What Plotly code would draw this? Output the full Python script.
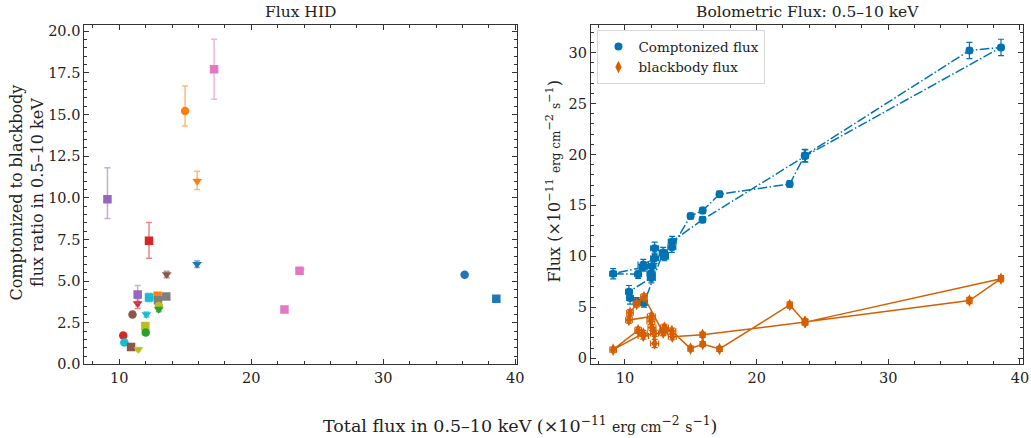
import plotly.graph_objects as go

# ---------------- data (time order) ----------------
total_flux = [11.39, 9.10, 11.00, 11.39, 12.25, 12.25, 12.05, 11.97, 12.00, 10.30,
              10.38, 10.89, 11.44, 12.90, 12.93, 12.99, 12.99, 13.56, 14.98, 15.90,
              17.18, 22.51, 23.65, 36.16, 38.56, 23.70, 15.89, 13.59]
total_err = [0.3, 0.25, 0.25, 0.4, 0.3, 0.3, 0.3, 0.3, 0.3, 0.25,
             0.25, 0.25, 0.25, 0.3, 0.3, 0.3, 0.3, 0.3, 0.2, 0.2,
             0.2, 0.2, 0.2, 0.2, 0.2, 0.2, 0.2, 0.3]
compt_flux = [8.95, 8.30, 8.25, 9.20, 9.81, 10.80, 9.04, 8.34, 7.89, 6.54,
              5.91, 5.55, 5.42, 10.38, 10.27, 10.10, 9.97, 10.89, 13.95, 14.50,
              16.10, 17.10, 19.90, 30.20, 30.50, 19.85, 13.60, 11.47]
compt_err = [0.4, 0.5, 0.4, 0.5, 0.5, 0.6, 0.5, 0.5, 0.5, 0.6,
             0.6, 0.4, 0.4, 0.5, 0.4, 0.4, 0.4, 0.5, 0.3, 0.3,
             0.3, 0.3, 0.6, 0.8, 0.8, 0.6, 0.3, 0.5]
bb_flux = [2.44, 0.85, 2.75, 2.19, 2.44, 1.45, 3.01, 3.63, 4.11, 3.76,
           4.47, 5.34, 6.02, 2.52, 2.66, 2.89, 3.02, 2.67, 0.95, 1.40,
           0.92, 5.23, 3.57, 5.67, 7.81, 3.55, 2.30, 2.12]
bb_err = [0.3, 0.25, 0.3, 0.3, 0.3, 0.4, 0.3, 0.3, 0.3, 0.3,
          0.3, 0.3, 0.3, 0.3, 0.3, 0.3, 0.3, 0.3, 0.25, 0.25,
          0.25, 0.3, 0.3, 0.3, 0.3, 0.3, 0.25, 0.3]
ratio = [3.66, 9.91, 3.00, 4.20, 4.02, 7.42, 3.00, 2.30, 1.92, 1.74,
         1.32, 1.04, 0.90, 4.12, 3.86, 3.50, 3.30, 4.08, 15.21, 11.00,
         17.72, 3.30, 5.62, 5.38, 3.94, 5.62, 6.02, 5.40]
ratio_err_hi = [0.30, 1.90, 0.12, 0.54, 0.25, 1.10, 0.15, 0.15, 0.12, 0.12,
                0.10, 0.08, 0.08, 0.15, 0.15, 0.15, 0.12, 0.15, 1.50, 0.60,
                1.80, 0.08, 0.15, 0.10, 0.10, 0.15, 0.20, 0.20]
ratio_err_lo = [0.30, 1.15, 0.12, 0.54, 0.25, 1.05, 0.15, 0.15, 0.12, 0.12,
                0.10, 0.08, 0.08, 0.15, 0.15, 0.15, 0.12, 0.15, 0.90, 0.50,
                1.80, 0.08, 0.15, 0.10, 0.10, 0.15, 0.20, 0.20]
point_color = ['#d62728', '#9467bd', '#8c564b', '#9467bd', '#17becf', '#d62728', '#17becf', '#bcbd22', '#2ca02c', '#d62728',
               '#17becf', '#8c564b', '#bcbd22', '#ff7f0e', '#7f7f7f', '#bcbd22', '#2ca02c', '#7f7f7f', '#ff7f0e', '#ff7f0e',
               '#e377c2', '#e377c2', '#e377c2', '#1f77b4', '#1f77b4', '#e377c2', '#1f77b4', '#8c564b']
point_symbol = ['triangle-down', 'square', 'circle', 'square', 'square', 'square', 'triangle-down', 'square', 'circle', 'circle',
                'circle', 'square', 'triangle-down', 'square', 'square', 'circle', 'triangle-down', 'square', 'circle', 'triangle-down',
                'square', 'square', 'square', 'circle', 'square', 'triangle-down', 'triangle-down', 'triangle-down']

FONT = "DejaVu Serif"
BLUE = "#0173b2"
ORANGE = "#d55e00"

fig = go.Figure()

def rgba(hexc, a):
    h = hexc.lstrip('#')
    return f"rgba({int(h[0:2],16)},{int(h[2:4],16)},{int(h[4:6],16)},{a})"

# ---------------- left panel: Flux HID ----------------
for i in range(len(total_flux)):
    fig.add_trace(go.Scatter(
        x=[total_flux[i]], y=[ratio[i]], mode="markers",
        marker=dict(color=point_color[i], symbol=point_symbol[i], size=8.5, line=dict(width=0)),
        error_y=dict(type="data", symmetric=False, array=[ratio_err_hi[i]], arrayminus=[ratio_err_lo[i]],
                     color=rgba(point_color[i], 0.55), thickness=1.5, width=3),
        error_x=dict(type="data", array=[total_err[i] * 0.4], color=rgba(point_color[i], 0.55), thickness=1.5, width=3),
        xaxis="x", yaxis="y", showlegend=False))

# ---------------- right panel: Bolometric flux ----------------
fig.add_trace(go.Scatter(
    x=total_flux, y=compt_flux, mode="lines+markers", name="Comptonized flux",
    line=dict(color=BLUE, width=1.5, dash="9.6px,2.4px,1.5px,2.4px"),
    marker=dict(color=BLUE, symbol="circle", size=8),
    error_y=dict(type="data", array=compt_err, color=BLUE, thickness=1.2, width=3),
    error_x=dict(type="data", array=total_err, color=BLUE, thickness=1.2, width=3),
    xaxis="x2", yaxis="y2", showlegend=False))
fig.add_trace(go.Scatter(
    x=total_flux, y=bb_flux, mode="lines+markers", name="blackbody flux",
    line=dict(color=ORANGE, width=1.5),
    marker=dict(color=ORANGE, symbol="diamond-tall", size=9),
    error_y=dict(type="data", array=bb_err, color=ORANGE, thickness=1.2, width=3),
    error_x=dict(type="data", array=total_err, color=ORANGE, thickness=1.2, width=3),
    xaxis="x2", yaxis="y2", showlegend=False))
# legend entries (markers only, as in the reference)
fig.add_trace(go.Scatter(x=[None], y=[None], mode="markers", name="Comptonized flux",
                         marker=dict(color=BLUE, symbol="circle", size=8), xaxis="x2", yaxis="y2"))
fig.add_trace(go.Scatter(x=[None], y=[None], mode="markers", name="blackbody flux",
                         marker=dict(color=ORANGE, symbol="diamond-tall", size=9), xaxis="x2", yaxis="y2"))

axis_common = dict(showline=True, linecolor="#333", linewidth=1, mirror="allticks",
                   ticks="inside", ticklen=5, tickwidth=1, tickcolor="#333",
                   showgrid=False, zeroline=False, automargin=False,
                   tickfont=dict(family=FONT, size=14.5, color="#222"))

fig.update_layout(
    width=1031, height=438,
    margin=dict(l=0, r=0, t=0, b=0),
    paper_bgcolor="white", plot_bgcolor="white",
    font=dict(family=FONT, color="#222"),
    xaxis=dict(domain=[0.0818, 0.5015], range=[7.35, 40.13], tickvals=[10, 20, 30, 40],
               minor=dict(ticks="inside", ticklen=3, dtick=2, tick0=0, tickcolor="#333"),
               anchor="y", **axis_common),
    yaxis=dict(domain=[0.168, 0.943], range=[0, 20.38], tickvals=[0, 2.5, 5, 7.5, 10, 12.5, 15, 17.5, 20],
               ticktext=["0.0", "2.5", "5.0", "7.5", "10.0", "12.5", "15.0", "17.5", "20.0"],
               minor=dict(ticks="inside", ticklen=3, dtick=0.5, tick0=0, tickcolor="#333"),
               anchor="x", **axis_common),
    xaxis2=dict(domain=[0.573, 0.9925], range=[7.4, 40.25], tickvals=[10, 20, 30, 40],
                minor=dict(ticks="inside", ticklen=3, dtick=2, tick0=0, tickcolor="#333"),
                anchor="y2", **axis_common),
    yaxis2=dict(domain=[0.168, 0.943], range=[-0.6, 32.7], tickvals=[0, 5, 10, 15, 20, 25, 30],
                minor=dict(ticks="inside", ticklen=3, dtick=1, tick0=0, tickcolor="#333"),
                anchor="x2", **axis_common),
    legend=dict(x=0.5795, y=0.931, xanchor="left", yanchor="top",
                bgcolor="rgba(255,255,255,0.8)", bordercolor="#d8d8d8", borderwidth=1,
                font=dict(family=FONT, size=13.5, color="#222"), itemwidth=30,
                tracegroupgap=0),
)

ann = [
    dict(text="Flux HID", x=0.2917, y=0.972, xref="paper", yref="paper", showarrow=False,
         font=dict(family=FONT, size=15.5), xanchor="center", yanchor="middle"),
    dict(text="Bolometric Flux: 0.5–10 keV", x=0.7828, y=0.972, xref="paper", yref="paper", showarrow=False,
         font=dict(family=FONT, size=15.5), xanchor="center", yanchor="middle"),
    dict(text="Comptonized to blackbody<br>flux ratio in 0.5–10 keV", x=0.026, y=0.56, xref="paper", yref="paper",
         showarrow=False, textangle=-90, font=dict(family=FONT, size=16), xanchor="center", yanchor="middle"),
    dict(text="Flux (×10<sup>−11</sup> <span style='font-size:12px'>erg cm</span><sup>−2</sup> <span style='font-size:12px'>s</span><sup>−1</sup>)",
         x=0.537, y=0.585, xref="paper", yref="paper",
         showarrow=False, textangle=-90, font=dict(family=FONT, size=16), xanchor="center", yanchor="middle"),
    dict(text="Total flux in 0.5–10 keV (×10<sup>−11</sup> <span style='font-size:14px'>erg cm</span><sup>−2</sup> <span style='font-size:14px'>s</span><sup>−1</sup>)",
         x=0.504, y=0.03, xref="paper", yref="paper", showarrow=False,
         font=dict(family=FONT, size=17.5), xanchor="center", yanchor="middle"),
]
fig.update_layout(annotations=ann)

fig.write_html("out.html", config={"displayModeBar": False},
               post_script="document.body.style.margin='0';document.body.style.overflow='hidden';")
